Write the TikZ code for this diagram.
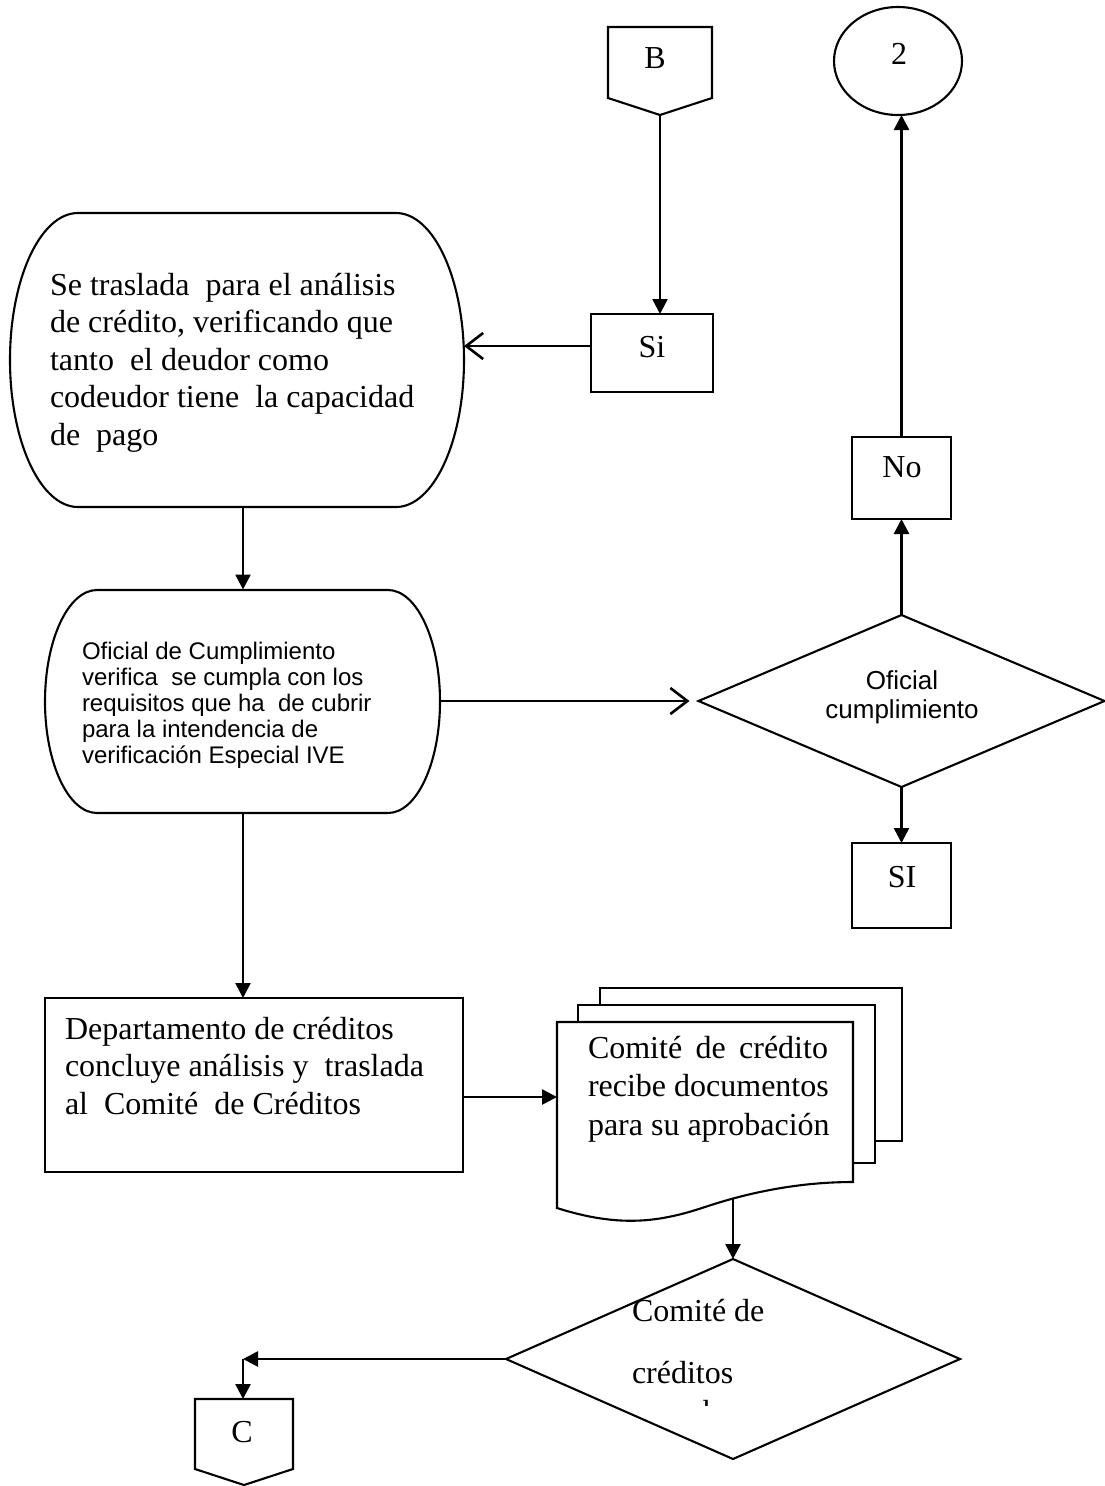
\documentclass[tikz,border=0pt]{standalone}
\usepackage{fontspec}
\setmainfont{Liberation Serif}
\newfontfamily\arialf{Liberation Sans}
\usetikzlibrary{arrows.meta,shapes.geometric,calc}
\begin{document}
\begin{tikzpicture}[x=1pt,y=-1pt,
 shp/.style={draw=black,line width=2.1pt,fill=white},
 ghost/.style={inner sep=0pt,outer sep=0pt},
 boxn/.style={draw=black,line width=2.1pt,inner sep=0pt,outer sep=0pt},
 arr/.style={draw=black,line width=2.6pt,-{Triangle[length=15pt,width=15pt]}},
 oarr/.style={draw=black,line width=2.6pt,-{Straight Barb[length=17pt,width=26pt]}},
 tms/.style={inner sep=0pt,outer sep=0pt,font=\fontsize{32}{37.5}\selectfont},
 ari/.style={inner sep=0pt,outer sep=0pt,font=\arialf\fontsize{24}{26}\selectfont},
 arib/.style={inner sep=0pt,outer sep=0pt,font=\arialf\fontsize{26}{29}\selectfont},
]
\useasboundingbox (0,0) rectangle (1104,1486);
\fill[white] (0,0) rectangle (1104,1486);

% B connector
\draw[shp] (608,27) -- (712,27) -- (712,98) -- (660,115) -- (608,98) -- cycle;
\node[ghost, minimum width=104, minimum height=88] (B) at (660,71) {};
\node[tms, anchor=base] (Bt) at (655,68) {B};

% ellipse 2
\node[boxn, ellipse, minimum width=128, minimum height=108] (two) at (898,61) {};
\node[tms, anchor=base] (twot) at (899,64) {2};

% Si
\node[boxn, minimum width=122, minimum height=78] (si) at (652,353) {};
\node[tms, anchor=base] (sit) at (652,357) {Si};

% Oval 1
\draw[shp] (78,213) -- (396,213) .. controls (433.6,213) and (464,278.8) .. (464,360)
  .. controls (464,441.2) and (433.6,507) .. (396,507) -- (78,507)
  .. controls (40.4,507) and (10,441.2) .. (10,360)
  .. controls (10,278.8) and (40.4,213) .. (78,213) -- cycle;
\node[ghost, minimum width=454, minimum height=294] (ov1) at (237,360) {};
\node[tms, anchor=north west, align=left] (ov1t) at (50,269) {\rule{0pt}{26pt}Se traslada\ \ para el análisis\\de crédito, verificando que\\tanto\ \ el deudor como\\codeudor tiene\ \ la capacidad\\de\ \ pago};

% No / SI boxes
\node[boxn, minimum width=99, minimum height=82] (no) at (901.5,478) {};
\node[tms, anchor=base] (not) at (902,477) {No};
\node[boxn, minimum width=99, minimum height=85] (sI) at (901.5,885.5) {};
\node[tms, anchor=base] (sIt) at (902,887) {SI};

% diamond 1
\node[boxn, diamond, minimum width=406, minimum height=172] (d1) at (901.5,701) {};
\node[arib, anchor=north, align=center] (d1t) at (902,667) {\rule{0pt}{22pt}Oficial\\cumplimiento};

% Oval 2
\draw[shp] (97,590) -- (388,590) .. controls (416.7,590) and (440,639.9) .. (440,701.5)
  .. controls (440,763.1) and (416.7,813) .. (388,813) -- (97,813)
  .. controls (68.3,813) and (45,763.1) .. (45,701.5)
  .. controls (45,639.9) and (68.3,590) .. (97,590) -- cycle;
\node[ghost, minimum width=395, minimum height=223] (ov2) at (242.5,701) {};
\node[ari, anchor=north west, align=left] (ov2t) at (82,639) {\rule{0pt}{20pt}Oficial de Cumplimiento\\verifica\ \ se cumpla con los\\requisitos que ha\ \ de cubrir\\para la intendencia de\\verificación Especial IVE};

% Departamento
\node[boxn, minimum width=418, minimum height=174] (dep) at (254,1085) {};
\node[tms, anchor=north west, align=left] (dept) at (65,1013) {\rule{0pt}{26pt}Departamento de créditos\\concluye análisis y\ \ traslada\\al\ \ Comité\ \ de Créditos};

% document stack
\draw[shp] (600,988) rectangle (902,1141);
\draw[shp] (578,1005) rectangle (875,1163);
\draw[shp] (557,1022) -- (853,1022) -- (853,1182) .. controls (800,1182) and (750,1192) .. (705,1207)
  .. controls (660,1222) and (620,1228) .. (557,1208) -- cycle;
\node[ghost, minimum width=296, minimum height=186] (doc) at (705,1115) {};
\node[tms, anchor=north west, align=left, font=\fontsize{32}{38.5}\selectfont] (doct) at (588,1032) {\rule{0pt}{26pt}\hbox to 240pt{Comité\hfill de\hfill crédito}\\recibe documentos\\para su aprobación};
\coordinate (docb) at (733,1199);

% diamond 2
\node[boxn, diamond, minimum width=454, minimum height=200] (d2) at (733,1359) {};
\node[tms, anchor=base west] (d2a) at (632,1321) {Comité de};
\node[tms, anchor=base west] (d2b) at (632,1383) {créditos};
\begin{scope}
\clip (600,1390) rectangle (800,1405);
\node[tms, anchor=base west] (d2c) at (632,1422) {aprueba};
\end{scope}

% C connector
\draw[shp] (195,1399) -- (293,1399) -- (293,1469) -- (244,1485) -- (195,1469) -- cycle;
\node[ghost, minimum width=98, minimum height=86] (C) at (244,1442) {};
\node[tms, anchor=base] (Ct) at (242,1442) {C};

% connectors
\coordinate (colx) at (243,0);
\draw[arr] (B.south) -- (B.south |- si.north);
\coordinate (siw) at ([yshift=7pt]si.west);
\draw[oarr] (siw) -- (siw -| ov1.east);
\draw[arr] (ov1.south -| colx) -- (ov2.north -| colx);
\draw[arr] (ov2.south -| colx) -- (dep.north -| colx);
\draw[oarr, shorten >=9pt] (ov2.east) -- (ov2.east -| d1.west);
\draw[arr] (d1.north) -- (d1.north |- no.south);
\draw[arr] (no.north) -- (no.north |- two.south);
\draw[arr] (d1.south) -- (d1.south |- sI.north);
\coordinate (depe) at ([yshift=-12pt]dep.east);
\draw[arr] (depe) -- (depe -| doc.west);
\draw[arr] (docb) -- (docb |- d2.north);
\coordinate (cc) at (d2.west -| colx);
\draw[arr] (d2.west) -- (cc);
\draw[arr] (cc) -- (cc |- C.north);
\end{tikzpicture}
\end{document}
